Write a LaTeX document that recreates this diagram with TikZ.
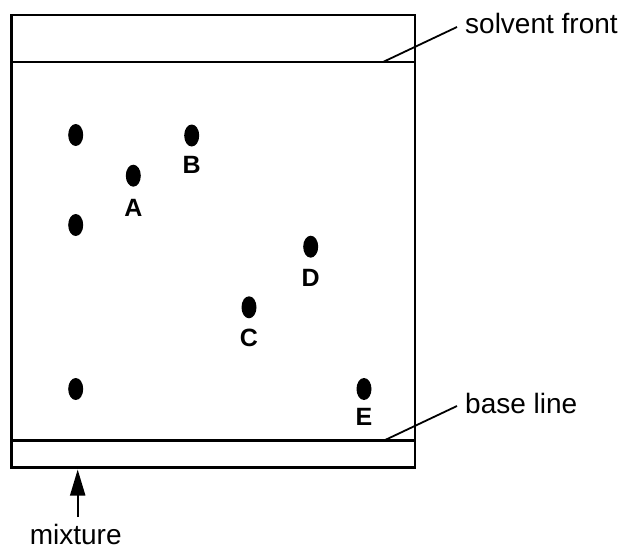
\documentclass[tikz,border=0pt]{standalone}
\usepackage{fontspec}
\setmainfont{Liberation Sans}
\usetikzlibrary{arrows.meta,shapes.geometric}
\tikzset{
  frame/.style={line width=2.2pt},
  spot/.style={fill=black, ellipse, minimum width=15pt, minimum height=22pt, inner sep=0pt, draw=none},
  letter/.style={font=\fontsize{25}{25}\selectfont\bfseries, anchor=base, inner sep=0pt},
  caption/.style={font=\fontsize{28}{28}\selectfont, inner sep=0pt},
  leader/.style={line width=1.8pt},
}
\begin{document}
\begin{tikzpicture}[x=1pt,y=-1pt]
\useasboundingbox (0,0) rectangle (626,549);
% plate
\draw[frame] (11.5,15) rectangle (415,467.5);
\draw[frame] (11.5,62) -- (415,62);
\draw[frame] (11.5,440.5) -- (415,440.5);
% spots
\node[spot] (m1) at (75.7,135) {};
\node[spot] (m2) at (75.7,225) {};
\node[spot] (m3) at (75.7,389) {};
\node[spot] (sA) at (133.3,175.7) {};
\node[spot] (sB) at (191.7,135.5) {};
\node[spot] (sC) at (249,307.3) {};
\node[spot] (sD) at (310.7,246.7) {};
\node[spot] (sE) at (364,389) {};
% letters
\node[letter] (lA) at (133.3,216.5) {A};
\node[letter] (lB) at (191.7,173.3) {B};
\node[letter] (lC) at (249,346.5) {C};
\node[letter] (lD) at (310.7,286.5) {D};
\node[letter] (lE) at (364,425) {E};
% captions
\node[caption, anchor=base west] (sf) at (465,33) {solvent front};
\node[caption, anchor=base west] (bl) at (465,413) {base line};
\node[caption, anchor=base] (mx) at (75.7,544) {mixture};
% leaders
\coordinate (sfpt) at (383,62);
\coordinate (sfend) at (457,27);
\coordinate (blpt) at (383,441);
\coordinate (blend) at (457,406);
\draw[leader] (sfpt) -- (sfend);
\draw[leader] (blpt) -- (blend);
% arrow
\coordinate (arrtip) at (77.7,469.5);
\coordinate (arrfoot) at (77.7,517);
\draw[line width=2pt, -{Triangle[length=26pt,width=15pt]}] (arrfoot) -- (arrtip);
\end{tikzpicture}
\end{document}
